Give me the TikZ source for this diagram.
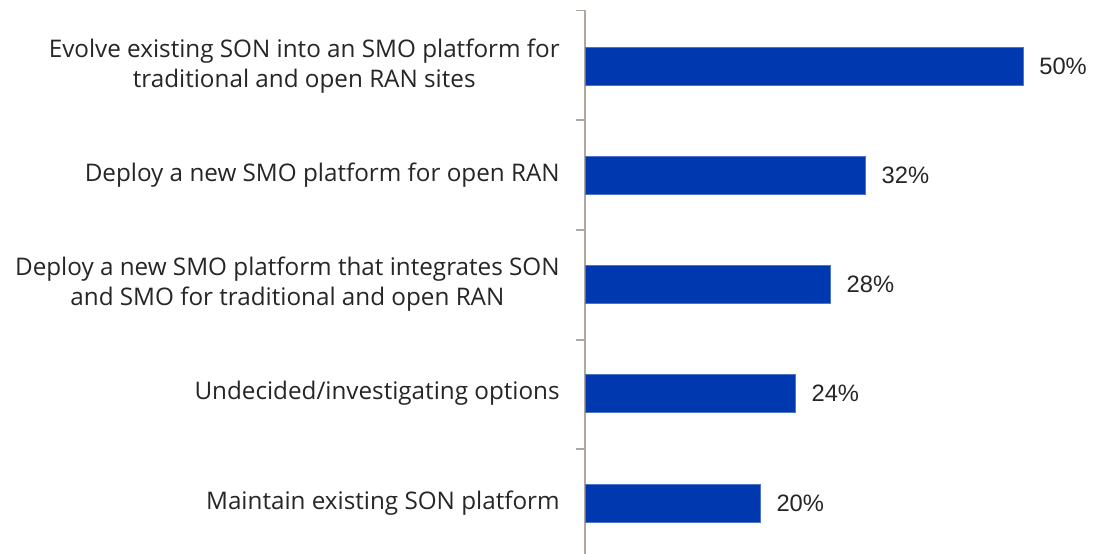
\documentclass[tikz,border=0pt]{standalone}
\usepackage{fontspec}
\setmainfont{Open Sans}
\newfontfamily\valfont{Liberation Sans}
\definecolor{barblue}{RGB}{0,56,176}
\definecolor{axisgray}{RGB}{176,168,160}
\begin{document}
\begin{tikzpicture}[x=0.02cm,y=-0.02cm]
        \tikzstyle{bar} = [fill=barblue, draw=barblue!70!white, line width=0.4pt]
        \tikzstyle{catlabel} = [anchor=east, align=center, inner sep=0pt, font=\fontsize{13.8}{17}\selectfont, text=black!85]
        \tikzstyle{vallabel} = [anchor=west, inner sep=0pt, font=\valfont\fontsize{13.5}{16}\selectfont, text=black!85]

        \useasboundingbox[fill=white] (0,0) rectangle (1093,554);

        % axis and ticks
        \draw[axisgray, line width=0.6pt] (585,10.5) -- (585,554);
        \foreach \ty in {10.5,120,230,340,449}
            \draw[axisgray, line width=0.6pt] (576,\ty) -- (585,\ty);

        % bars
        \foreach \v/\cy/\name/\txt in {
            50/66/evolve/{Evolve existing SON into an SMO platform for\\traditional and open RAN sites},
            32/175/deploy/{Deploy a new SMO platform for open RAN},
            28/284/integrate/{Deploy a new SMO platform that integrates SON\\and SMO for traditional and open RAN},
            24/393/undecided/{Undecided/investigating options},
            20/503/maintain/{Maintain existing SON platform}}
        {
            \draw[bar] (585,\cy-19) rectangle (585+8.76*\v,\cy+19);
            \node[catlabel] (lab-\name) at (560,\cy) {\txt};
            \node[vallabel] (val-\name) at (585+8.76*\v+16,\cy) {\v\%};
        }

\end{tikzpicture}
\end{document}
